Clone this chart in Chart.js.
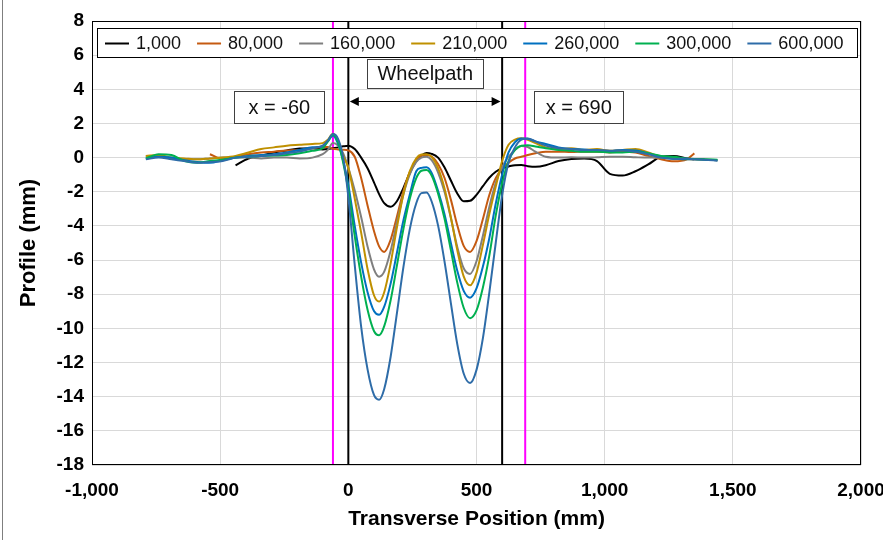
<!DOCTYPE html>
<html>
<head>
<meta charset="utf-8">
<title>Transverse Profile</title>
<script src="https://cdn.jsdelivr.net/npm/chart.js@4.4.1/dist/chart.umd.min.js"></script>
<style>
  html, body { margin: 0; padding: 0; background: #fff; }
  #wrap { position: relative; width: 883px; height: 540px; }
</style>
</head>
<body>
<div id="wrap"><canvas id="profileChart" width="883" height="540"></canvas></div>
<script>
/* Transverse profile after N load passes */

// transverse stations (mm)
const TRANSVERSE_MM = [-790, -740, -690, -640, -590, -540, -490, -440, -390, -340, -290, -240, -190, -140,
  -100, -80, -60, -40, -20, 0, 25, 50, 75, 100, 120, 140, 165, 190, 215, 240, 265, 285, 305, 325,
  350, 375, 400, 425, 450, 475, 500, 525, 550, 575, 600, 625, 650, 675, 700, 730,
  770, 820, 870, 920, 970, 1020, 1070, 1120, 1170, 1220, 1270, 1320, 1350, 1390, 1440];

const LOAD_LABELS = ['1,000', '80,000', '160,000', '210,000', '260,000', '300,000', '600,000'];
const LOAD_COLORS = ['#000000', '#C55A11', '#7F7F7F', '#BF9000', '#0070C0', '#00B050', '#2E6CA8'];

// profile depth (mm) per station, null = not measured
const PROFILE_1K = [null, null, null, null, null, null, null, -0.45, -0.05, 0.12, 0.3, 0.42, 0.53, 0.55,
  0.48, 0.5, 0.55, 0.6, 0.66, 0.7, 0.5, 0.0, -0.62, -1.45, -2.14, -2.67, -2.88, -2.54, -1.77, -0.9, -0.2, 0.12, 0.27, 0.22,
  0.0, -0.57, -1.34, -2.1, -2.56, -2.53, -2.18, -1.67, -1.18, -0.83, -0.62, -0.52, -0.44, -0.43, -0.5, -0.54,
  -0.45, -0.2, -0.08, -0.05, -0.2, -0.95, -1.05, -0.8, -0.4, 0.05, 0.1, -0.05, -0.1, null, null];

const PROFILE_80K = [null, null, null, null, null, 0.2, -0.08, 0.05, 0.2, 0.3, 0.35, 0.42, 0.45, 0.55,
  0.62, 0.62, 0.52, 0.48, 0.46, 0.42, 0.05, -1.2, -2.8, -4.3, -5.2, -5.52, -4.81, -3.43, -1.95, -0.83, -0.17, 0.1, 0.15, 0.06,
  -0.37, -1.18, -2.46, -3.96, -5.17, -5.52, -4.89, -3.59, -2.19, -1.2, -0.65, -0.3, -0.05, 0.05, 0.15, 0.25,
  0.35, 0.35, 0.33, 0.35, 0.35, 0.3, 0.35, 0.3, 0.1, -0.1, -0.22, -0.1, 0.25, null, null];

const PROFILE_160K = [0.1, 0.05, -0.05, -0.1, -0.1, -0.05, 0.0, 0.0, 0.0, -0.05, 0.0, 0.0, -0.05, 0.0,
  0.2, 0.45, 0.85, 0.7, 0.25, -0.6, -1.92, -3.48, -5.2, -6.54, -6.97, -6.68, -5.46, -3.76, -2.14, -0.96, -0.25, 0.0, 0.05, -0.15,
  -0.86, -1.99, -3.54, -5.23, -6.48, -6.81, -6.07, -4.57, -2.89, -1.48, -0.55, 0.05, 0.45, 0.68, 0.62, 0.35,
  0.05, 0.0, 0.02, 0.0, 0.02, 0.05, 0.05, 0.02, 0.0, 0.0, -0.05, -0.08, -0.1, -0.1, null];

const PROFILE_210K = [0.1, 0.15, 0.0, -0.05, -0.1, -0.05, 0.0, 0.1, 0.3, 0.5, 0.6, 0.7, 0.75, 0.8,
  0.85, 1.05, 1.4, 1.0, 0.1, -0.6, -2.4, -4.39, -6.52, -8.06, -8.43, -7.88, -6.2, -4.05, -2.13, -0.79, -0.04, 0.18, 0.2, 0.04,
  -0.62, -1.79, -3.49, -5.41, -6.95, -7.48, -6.75, -5.11, -3.3, -1.7, -0.2, 0.75, 1.05, 1.13, 1.05, 0.85,
  0.6, 0.5, 0.55, 0.45, 0.5, 0.4, 0.45, 0.5, 0.3, 0.05, -0.05, -0.1, -0.1, -0.12, -0.15];

const PROFILE_260K = [-0.05, 0.05, 0.0, -0.15, -0.25, -0.3, -0.15, 0.0, 0.1, 0.15, 0.2, 0.3, 0.45, 0.6,
  0.65, 0.95, 1.3, 0.8, -0.2, -1.6, -4.0, -6.15, -7.88, -8.98, -9.2, -8.73, -7.38, -5.54, -3.67, -2.15, -0.8, -0.6, -0.57, -0.9,
  -1.95, -3.3, -5.0, -6.63, -7.8, -8.2, -7.66, -6.38, -4.72, -2.7, -1.0, 0.3, 0.9, 1.12, 1.1, 0.95,
  0.8, 0.6, 0.5, 0.48, 0.4, 0.38, 0.45, 0.42, 0.25, 0.02, -0.05, -0.1, -0.1, -0.12, -0.15];

const PROFILE_300K = [-0.05, 0.2, 0.15, -0.2, -0.3, -0.2, -0.12, 0.0, 0.05, 0.1, 0.12, 0.15, 0.25, 0.4,
  0.55, 0.95, 1.35, 0.9, -0.3, -1.9, -4.6, -6.97, -8.91, -10.15, -10.4, -9.87, -8.35, -6.28, -4.17, -2.4, -1.2, -0.77, -0.72, -1.05,
  -2.1, -3.55, -5.42, -7.32, -8.79, -9.4, -8.95, -7.6, -5.74, -3.4, -1.5, -0.2, 0.45, 0.7, 0.72, 0.65,
  0.55, 0.45, 0.4, 0.35, 0.35, 0.3, 0.3, 0.35, 0.25, 0.1, 0.05, -0.05, -0.08, -0.1, -0.12];

const PROFILE_600K = [-0.1, 0.0, -0.1, -0.2, -0.3, -0.25, -0.2, 0.0, 0.05, 0.1, 0.15, 0.25, 0.35, 0.55,
  0.7, 1.0, 1.38, 1.1, 0.0, -2.3, -6.3, -9.9, -12.4, -13.9, -14.18, -13.55, -11.66, -9.06, -6.4, -4.17, -2.67, -2.08, -2.05, -2.57,
  -3.97, -6.06, -8.52, -10.92, -12.64, -13.2, -12.43, -10.57, -7.9, -5.0, -2.2, -0.3, 0.6, 1.05, 1.12, 0.95,
  0.7, 0.55, 0.5, 0.45, 0.45, 0.4, 0.42, 0.35, 0.2, 0.0, -0.08, -0.05, -0.1, -0.12, -0.18];

const PROFILES = [PROFILE_1K, PROFILE_80K, PROFILE_160K, PROFILE_210K, PROFILE_260K, PROFILE_300K, PROFILE_600K];

// reference verticals: wheelpath edges and measurement limits
const REF_X = [-60, 0, 600, 690];
const REF_COLORS = ['#FF00FF', '#000000', '#000000', '#FF00FF'];

const Y_MIN = -18, Y_MAX = 8, Y_STEP = 2;
const X_MIN = -1000, X_MAX = 2000, X_STEP = 500;

// text callouts (data coords) and the wheelpath arrow
const NOTES = [
  { text: 'Wheelpath', x: 300, y: 4.92, w: 116, h: 29 },
  { text: 'x = -60', x: -269, y: 2.96, w: 90, h: 32 },
  { text: 'x = 690', x: 899, y: 2.96, w: 89, h: 32 }
];
const ARROW = { from: 0, to: 600, y: 3.31 };

const FONT = "'Liberation Sans', Arial, sans-serif";
Chart.defaults.font.family = FONT;
Chart.defaults.color = '#000';

const datasets = PROFILES.map((ys, i) => ({
  label: LOAD_LABELS[i],
  data: TRANSVERSE_MM.map((x, j) => ({ x, y: ys[j] })).filter(p => p.y !== null),
  borderColor: LOAD_COLORS[i],
  borderWidth: 2,
  pointRadius: 0,
  cubicInterpolationMode: 'monotone',
  fill: false,
  order: 10 - i
}));

REF_X.forEach((x, i) => datasets.push({
  label: '',
  isRef: true,
  data: [{ x, y: Y_MIN }, { x, y: Y_MAX }],
  borderColor: REF_COLORS[i],
  borderWidth: 2,
  pointRadius: 0,
  order: 20
}));

const chartDecor = {
  id: 'chartDecor',
  beforeDraw(chart) {
    const ctx = chart.ctx;
    ctx.save();
    ctx.strokeStyle = '#7f7f7f';
    ctx.lineWidth = 1;
    ctx.beginPath();
    ctx.moveTo(2.5, 0);
    ctx.lineTo(2.5, chart.height);
    ctx.stroke();
    ctx.restore();
  },
  afterDraw(chart) {
    const { ctx, chartArea: a, scales: { x, y } } = chart;
    ctx.save();

    // plot frame
    ctx.strokeStyle = '#000';
    ctx.lineWidth = 1;
    ctx.strokeRect(Math.round(a.left) + 0.5, Math.round(a.top) + 0.5,
      Math.round(a.width) - 1, Math.round(a.height) - 1);

    // wheelpath arrow
    const ay = Math.round(y.getPixelForValue(ARROW.y)) + 0.5;
    const ax1 = x.getPixelForValue(ARROW.from) + 1.5;
    const ax2 = x.getPixelForValue(ARROW.to) - 1.5;
    ctx.strokeStyle = '#000';
    ctx.beginPath();
    ctx.moveTo(ax1 + 4, ay);
    ctx.lineTo(ax2 - 4, ay);
    ctx.stroke();
    ctx.fillStyle = '#000';
    [[ax1, 1], [ax2, -1]].forEach(([px, dir]) => {
      ctx.beginPath();
      ctx.moveTo(px, ay);
      ctx.lineTo(px + dir * 9, ay - 4.5);
      ctx.lineTo(px + dir * 9, ay + 4.5);
      ctx.closePath();
      ctx.fill();
    });

    // callout boxes
    ctx.font = '20px ' + FONT;
    ctx.textAlign = 'center';
    ctx.textBaseline = 'middle';
    NOTES.forEach(n => {
      const cx = x.getPixelForValue(n.x);
      const cy = y.getPixelForValue(n.y);
      const bx = Math.round(cx - n.w / 2) + 0.5;
      const by = Math.round(cy - n.h / 2) + 0.5;
      ctx.fillStyle = '#fff';
      ctx.fillRect(bx, by, n.w, n.h);
      ctx.strokeStyle = '#404040';
      ctx.strokeRect(bx, by, n.w, n.h);
      ctx.fillStyle = '#111';
      ctx.fillText(n.text, cx, cy + 1);
    });

    // legend strip along the top of the plot
    const lx = a.left + 5, lw = a.width - 9, ly = a.top + 7, lh = 29;
    ctx.fillStyle = '#fff';
    ctx.fillRect(Math.round(lx) + 0.5, ly + 0.5, Math.round(lw), lh);
    ctx.strokeStyle = '#000';
    ctx.strokeRect(Math.round(lx) + 0.5, ly + 0.5, Math.round(lw), lh);
    ctx.font = '18px ' + FONT;
    ctx.textAlign = 'left';
    let px = lx + 8;
    const my = ly + lh / 2 + 1;
    chart.data.datasets.filter(d => !d.isRef).forEach(d => {
      ctx.strokeStyle = d.borderColor;
      ctx.lineWidth = 2;
      ctx.beginPath();
      ctx.moveTo(px, my);
      ctx.lineTo(px + 24, my);
      ctx.stroke();
      ctx.fillStyle = '#111';
      ctx.fillText(d.label, px + 31, my + 1);
      px += 31 + ctx.measureText(d.label).width + 16;
    });
    ctx.restore();
  }
};

new Chart(document.getElementById('profileChart'), {
  type: 'line',
  data: { datasets },
  plugins: [chartDecor],
  options: {
    responsive: false,
    animation: false,
    layout: { padding: { left: 0, right: 22, top: 21, bottom: 0 } },
    plugins: { legend: { display: false }, tooltip: { enabled: false } },
    scales: {
      x: {
        type: 'linear',
        min: X_MIN,
        max: X_MAX,
        ticks: {
          stepSize: X_STEP,
          padding: 14,
          font: { size: 19, weight: 'bold' },
          callback: v => v.toLocaleString('en-US')
        },
        grid: { color: '#D9D9D9', drawTicks: false },
        border: { display: false },
        title: {
          display: true,
          text: 'Transverse Position (mm)',
          font: { size: 21, weight: 'bold' },
          padding: { top: 0, bottom: 8 }
        },
        afterFit(scale) {
          scale.height = 75;
          scale.paddingLeft = 0;
          scale.paddingRight = 0;
        }
      },
      y: {
        min: Y_MIN,
        max: Y_MAX,
        ticks: {
          stepSize: Y_STEP,
          padding: 8,
          font: { size: 19, weight: 'bold' }
        },
        grid: { color: '#D9D9D9', drawTicks: false },
        border: { display: false },
        title: {
          display: true,
          text: 'Profile (mm)',
          font: { size: 22, weight: 'bold' },
          padding: { top: 16, bottom: 0 }
        },
        afterFit(scale) {
          scale.width = 92;
          scale.paddingTop = 0;
          scale.paddingBottom = 0;
        }
      }
    }
  }
});
</script>
</body>
</html>
